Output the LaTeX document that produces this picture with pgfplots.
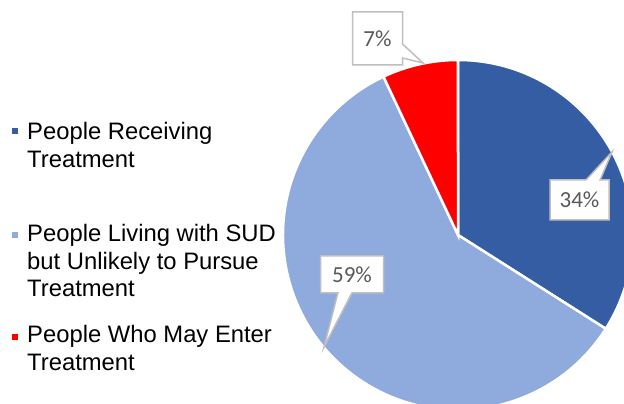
\documentclass[border=0pt]{standalone}
\usepackage{pgfplots}
\pgfplotsset{compat=1.18}
\usepackage{pgfplotstable}
\usepackage{fontspec}
\setmainfont{Liberation Sans}
\newfontfamily\calibri{Carlito}
\usetikzlibrary{shapes.callouts}
\definecolor{c1}{HTML}{355DA3}
\definecolor{c2}{HTML}{8FAADC}
\definecolor{c3}{HTML}{FF0000}
\definecolor{lblgray}{HTML}{595959}
\definecolor{boxgray}{HTML}{BFBFBF}

\pgfplotstableread{
label value
Receiving 34
Unlikely 59
MayEnter 7
}\piedata

\begin{document}
\begin{tikzpicture}
\pgfplotstablegetelem{0}{value}\of\piedata \let\va\pgfplotsretval
\pgfplotstablegetelem{1}{value}\of\piedata \let\vb\pgfplotsretval
\pgfplotstablegetelem{2}{value}\of\piedata \let\vc\pgfplotsretval
\pgfmathsetmacro{\tot}{\va+\vb+\vc}
\pgfmathsetmacro{\aA}{90}
\pgfmathsetmacro{\aB}{\aA-\va/\tot*360}
\pgfmathsetmacro{\aC}{\aB-\vb/\tot*360}
\pgfmathsetmacro{\aD}{\aC-\vc/\tot*360}
\begin{axis}[
  width=624bp, height=404bp, scale only axis,
  xmin=0, xmax=624, ymin=0, ymax=404,
  hide axis, clip=true,
]
\addplot[draw=none] coordinates {(0,0) (624,404)};
% pie slices
\fill[c1, draw=white, line width=2.5bp] (axis cs:458,169) -- ++(\aA:175bp) arc[start angle=\aA, end angle=\aB, radius=175bp] -- cycle;
\fill[c2, draw=white, line width=2.5bp] (axis cs:458,169) -- ++(\aB:175bp) arc[start angle=\aB, end angle=\aC, radius=175bp] -- cycle;
\fill[c3, draw=white, line width=2.5bp] (axis cs:458,169) -- ++(\aC:175bp) arc[start angle=\aC, end angle=\aD, radius=175bp] -- cycle;

% data labels
\tikzset{lbl/.style={rectangle callout, fill=white, draw=boxgray, line width=1.5bp,
  inner sep=0pt, text=lblgray, font=\calibri\fontsize{23bp}{27bp}\selectfont,
  callout pointer width=14bp}}
\node[lbl, minimum width=59bp, minimum height=40bp, callout absolute pointer={(axis cs:612,252)}] at (axis cs:579.5,204) {34\%};
\node[lbl, minimum width=63bp, minimum height=37bp, callout absolute pointer={(axis cs:324,57)}] at (axis cs:352,129.5) {59\%};
\node[lbl, minimum width=50bp, minimum height=53bp, callout absolute pointer={(axis cs:423,341)}] at (axis cs:377.5,365.5) {7\%};

% legend
\fill[c1] (axis cs:11.5,270) rectangle (axis cs:17.5,276);
\fill[c2] (axis cs:11.5,166) rectangle (axis cs:17.5,172);
\fill[c3] (axis cs:11.5,64) rectangle (axis cs:17.5,70);
\tikzset{leg/.style={anchor=base west, inner sep=0pt, font=\fontsize{23.8bp}{27.5bp}\selectfont}}
\node[leg] at (axis cs:27,264) {People Receiving};
\node[leg] at (axis cs:27,236.5) {Treatment};
\node[leg] at (axis cs:27,162) {People Living with SUD};
\node[leg] at (axis cs:27,134.5) {but Unlikely to Pursue};
\node[leg] at (axis cs:27,107) {Treatment};
\node[leg] at (axis cs:27,61) {People Who May Enter};
\node[leg] at (axis cs:27,33.5) {Treatment};
\end{axis}
\pgfresetboundingbox
\path[use as bounding box] (0,0) rectangle (624bp,404bp);
\end{tikzpicture}
\end{document}
